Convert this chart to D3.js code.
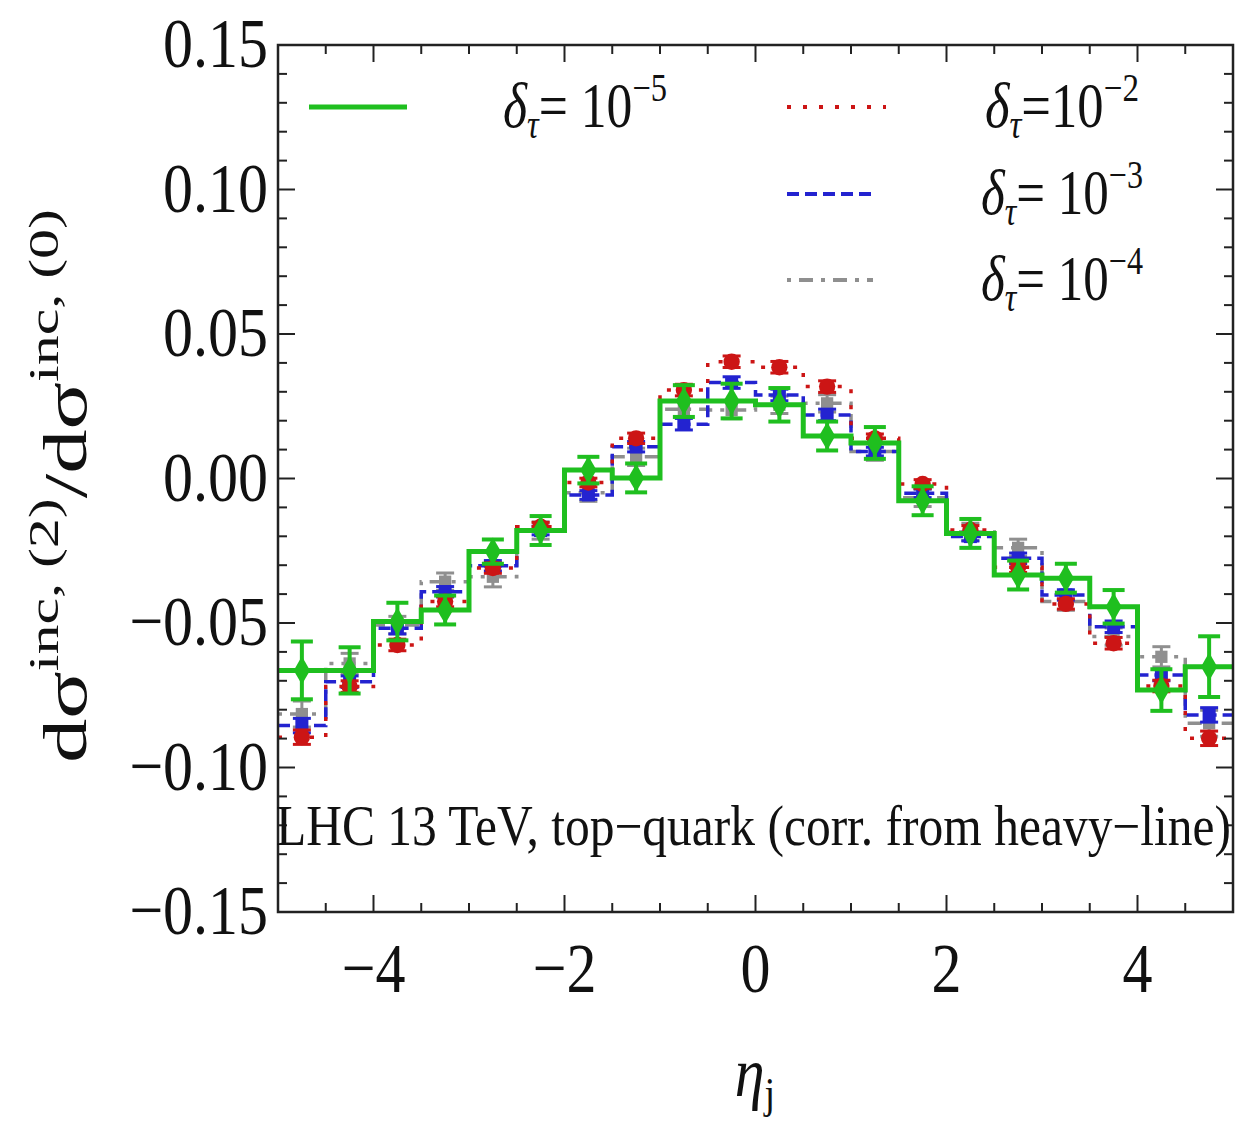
<!DOCTYPE html>
<html>
<head>
<meta charset="utf-8">
<script src="https://cdn.jsdelivr.net/npm/d3@7"></script>
<style>
  html, body { margin: 0; padding: 0; background: #fff; }
  svg { display: block; }
  text { font-family: "Liberation Serif", "DejaVu Serif", serif; fill: #111; }
</style>
</head>
<body>
<svg id="chart" width="1258" height="1123"></svg>
<script>
// Pseudorapidity bin edges (20 bins of width 0.5)
const etaEdges = [-5, -4.5, -4, -3.5, -3, -2.5, -2, -1.5, -1, -0.5, 0, 0.5, 1, 1.5, 2, 2.5, 3, 3.5, 4, 4.5, 5];

// Ratio dσ^(2)/dσ^(0) per bin for each slicing cut δτ
const ratioTau5 = [-0.0664, -0.0664, -0.0495, -0.0455, -0.0253, -0.0180, 0.0029, 0.0002, 0.0268, 0.0268, 0.0255, 0.0147, 0.0123, -0.0077, -0.0190, -0.0334, -0.0345, -0.0444, -0.0732, -0.0651];
const errTau5   = [0.0100, 0.0080, 0.0065, 0.0050, 0.0042, 0.0050, 0.0046, 0.0050, 0.0055, 0.0060, 0.0058, 0.0050, 0.0055, 0.0050, 0.0050, 0.0050, 0.0050, 0.0058, 0.0072, 0.0105];

const ratioTau2 = [-0.0895, -0.0720, -0.0576, -0.0426, -0.0310, -0.0167, -0.0014, 0.0139, 0.0306, 0.0404, 0.0385, 0.0318, 0.0139, -0.0019, -0.0178, -0.0307, -0.0434, -0.0570, -0.0718, -0.0899];
const errTau2   = [0.0025, 0.0020, 0.0020, 0.0018, 0.0018, 0.0015, 0.0015, 0.0018, 0.0020, 0.0020, 0.0020, 0.0020, 0.0015, 0.0015, 0.0015, 0.0018, 0.0018, 0.0020, 0.0020, 0.0025];

const ratioTau3 = [-0.0855, -0.0703, -0.0518, -0.0392, -0.0302, -0.0180, -0.0057, 0.0110, 0.0188, 0.0332, 0.0289, 0.0220, 0.0093, -0.0051, -0.0201, -0.0276, -0.0403, -0.0513, -0.0680, -0.0818];
const errTau3   = [0.0025, 0.0020, 0.0020, 0.0018, 0.0018, 0.0015, 0.0015, 0.0018, 0.0020, 0.0020, 0.0020, 0.0020, 0.0015, 0.0015, 0.0015, 0.0018, 0.0018, 0.0020, 0.0020, 0.0025];

const ratioTau4 = [-0.0815, -0.0640, -0.0507, -0.0357, -0.0340, -0.0180, -0.0049, 0.0075, 0.0240, 0.0237, 0.0255, 0.0260, 0.0093, -0.0067, -0.0185, -0.0240, -0.0426, -0.0547, -0.0617, -0.0847];
const errTau4   = [0.0045, 0.0035, 0.0030, 0.0030, 0.0035, 0.0030, 0.0030, 0.0030, 0.0030, 0.0030, 0.0030, 0.0030, 0.0030, 0.0030, 0.0030, 0.0030, 0.0030, 0.0030, 0.0035, 0.0045];

const xTicks = [-4, -2, 0, 2, 4];
const yTicks = [0.15, 0.10, 0.05, 0.00, -0.05, -0.10, -0.15];
const yTickLabels = ["0.15", "0.10", "0.05", "0.00", "\u22120.05", "\u22120.10", "\u22120.15"];

const svg = d3.select("#chart");
const frameL = 278, frameR = 1233, frameT = 45, frameB = 912;

const x = d3.scaleLinear().domain([-5, 5]).range([frameL, frameR]);
const y = d3.scaleLinear().domain([-0.15, 0.15]).range([frameB, frameT]);

const TEXT_SY = 1.18; // tall glyph aspect used throughout the figure

// series definitions (drawn back-to-front)
const series = [
  { vals: ratioTau4, errs: errTau4, color: "#8f8f8f", width: 3.5, dash: "4,8,14,8", symbol: d3.symbolSquare, size: 150, cap: 9, ew: 3 },
  { vals: ratioTau3, errs: errTau3, color: "#2323d0", width: 3.5, dash: "12,6", symbol: d3.symbolSquare, size: 170, cap: 9, ew: 3 },
  { vals: ratioTau2, errs: errTau2, color: "#cc1515", width: 3.5, dash: "4,12", symbol: d3.symbolCircle, size: 210, cap: 9, ew: 3 },
  { vals: ratioTau5, errs: errTau5, color: "#1fbf1f", width: 5, dash: null, symbol: d3.symbolDiamond, size: 230, cap: 11, ew: 4 }
];

svg.append("clipPath").attr("id", "plotclip")
  .append("rect").attr("x", frameL).attr("y", frameT).attr("width", frameR - frameL).attr("height", frameB - frameT);
const plot = svg.append("g");

const step = d3.line().x(d => x(d[0])).y(d => y(d[1])).curve(d3.curveStepAfter);

series.forEach(s => {
  const pts = s.vals.map((v, i) => [etaEdges[i], v]);
  pts.push([etaEdges[etaEdges.length - 1], s.vals[s.vals.length - 1]]);
  const g = plot.append("g").attr("clip-path", "url(#plotclip)");
  g.append("path")
    .attr("d", step(pts))
    .attr("fill", "none")
    .attr("stroke", s.color)
    .attr("stroke-width", s.width)
    .attr("stroke-dasharray", s.dash);

  const centers = s.vals.map((v, i) => ({ c: (etaEdges[i] + etaEdges[i + 1]) / 2, v, e: s.errs[i] }));
  const eb = g.selectAll(null).data(centers).enter().append("g");
  eb.append("line")
    .attr("x1", d => x(d.c)).attr("x2", d => x(d.c))
    .attr("y1", d => y(d.v - d.e)).attr("y2", d => y(d.v + d.e))
    .attr("stroke", s.color).attr("stroke-width", s.ew);
  [1, -1].forEach(sg => {
    eb.append("line")
      .attr("x1", d => x(d.c) - s.cap).attr("x2", d => x(d.c) + s.cap)
      .attr("y1", d => y(d.v + sg * d.e)).attr("y2", d => y(d.v + sg * d.e))
      .attr("stroke", s.color).attr("stroke-width", s.ew);
  });
  eb.append("path")
    .attr("d", d3.symbol().type(s.symbol).size(s.size))
    .attr("transform", d => `translate(${x(d.c)},${y(d.v)})`)
    .attr("fill", s.color);
});

// frame
svg.append("rect")
  .attr("x", frameL).attr("y", frameT).attr("width", frameR - frameL).attr("height", frameB - frameT)
  .attr("fill", "none").attr("stroke", "#222").attr("stroke-width", 2.5);

// ticks on all four sides
const xMinor = d3.range(-5, 5.001, 0.5);
const yMinor = d3.range(-0.15, 0.1501, 0.01);
const tickG = svg.append("g").attr("stroke", "#222").attr("stroke-width", 2);
xMinor.forEach(t => {
  const major = Math.abs(t / 2 - Math.round(t / 2)) < 1e-6;
  const len = major ? 17 : 9;
  tickG.append("line").attr("x1", x(t)).attr("x2", x(t)).attr("y1", frameB).attr("y2", frameB - len);
  tickG.append("line").attr("x1", x(t)).attr("x2", x(t)).attr("y1", frameT).attr("y2", frameT + len);
});
yMinor.forEach(t => {
  const major = Math.abs(t / 0.05 - Math.round(t / 0.05)) < 1e-6;
  const len = major ? 17 : 9;
  tickG.append("line").attr("x1", frameL).attr("x2", frameL + len).attr("y1", y(t)).attr("y2", y(t));
  tickG.append("line").attr("x1", frameR).attr("x2", frameR - len).attr("y1", y(t)).attr("y2", y(t));
});

// helper for tall text
function tallText(parent, px, py, size, anchor) {
  return parent.append("text")
    .attr("transform", `translate(${px},${py}) scale(1,${TEXT_SY})`)
    .attr("font-size", size)
    .attr("text-anchor", anchor || "start");
}

// y tick labels
yTicks.forEach((t, i) => {
  tallText(svg, 268, y(t) + 22, 60, "end").text(yTickLabels[i]);
});
// x tick labels
xTicks.forEach(t => {
  tallText(svg, x(t), 992, 60, "middle").text(t < 0 ? "\u2212" + Math.abs(t) : String(t));
});

// x axis title
const xl = tallText(svg, 755, 1096, 60, "middle");
xl.append("tspan").attr("font-style", "italic").text("\u03B7");
xl.append("tspan").attr("font-size", 38).attr("dy", 10).text("j");

// y axis title
const yl = svg.append("text")
  .attr("transform", "translate(86,486) rotate(-90)")
  .attr("font-size", 62)
  .attr("text-anchor", "middle")
  .attr("textLength", 554)
  .attr("lengthAdjust", "spacingAndGlyphs");
yl.append("tspan").text("d\u03C3");
yl.append("tspan").attr("font-size", 42).attr("dy", -28).text("inc, (2)");
yl.append("tspan").attr("dy", 28).text("/d\u03C3");
yl.append("tspan").attr("font-size", 42).attr("dy", -28).text("inc, (0)");

// annotation inside the frame
svg.append("text")
  .attr("x", 276).attr("y", 845)
  .attr("font-size", 56)
  .attr("textLength", 955)
  .attr("lengthAdjust", "spacingAndGlyphs")
  .text("LHC 13 TeV, top\u2212quark (corr. from heavy\u2212line)");

// legend
const legendRows = [
  { color: "#1fbf1f", width: 5, dash: null, x1: 309, x2: 407, ly: 107, tx: 503, ty: 127, tw: 164, eq: "= 10", exp: "\u22125" },
  { color: "#cc1515", width: 4, dash: "4,12", x1: 787, x2: 886, ly: 107, tx: 985, ty: 127, tw: 154, eq: "=10", exp: "\u22122" },
  { color: "#2323d0", width: 4, dash: "12,6", x1: 787, x2: 876, ly: 194, tx: 981, ty: 214, tw: 162, eq: "= 10", exp: "\u22123" },
  { color: "#8f8f8f", width: 4, dash: "4,8,14,8", x1: 787, x2: 873, ly: 280, tx: 981, ty: 300, tw: 162, eq: "= 10", exp: "\u22124" }
];
legendRows.forEach(r => {
  svg.append("line")
    .attr("x1", r.x1).attr("x2", r.x2).attr("y1", r.ly).attr("y2", r.ly)
    .attr("stroke", r.color).attr("stroke-width", r.width)
    .attr("stroke-dasharray", r.dash);
  const t = tallText(svg, r.tx, r.ty, 54, "start")
    .attr("textLength", r.tw).attr("lengthAdjust", "spacingAndGlyphs");
  t.append("tspan").attr("font-style", "italic").text("\u03B4");
  t.append("tspan").attr("font-style", "italic").attr("font-size", 34).attr("dy", 9).text("\u03C4");
  t.append("tspan").attr("dy", -9).text(r.eq);
  t.append("tspan").attr("font-size", 34).attr("dy", -22).text(r.exp);
});
</script>
</body>
</html>
